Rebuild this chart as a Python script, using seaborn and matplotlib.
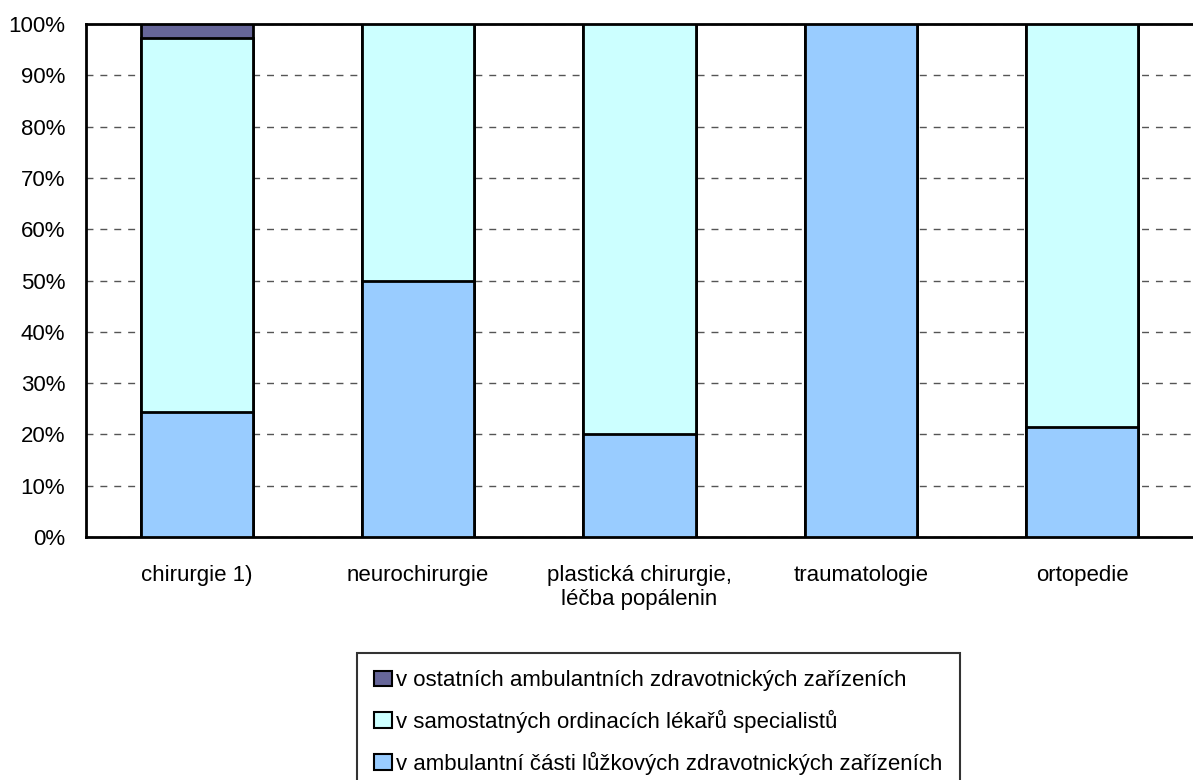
import numpy as np
import pandas as pd
import seaborn as sns
import matplotlib.pyplot as plt
from matplotlib.patches import Patch
from matplotlib.ticker import FixedLocator

# Data (share in %)
categories = ["chirurgie 1)", "neurochirurgie", "plastická chirurgie,\nléčba popálenin",
              "traumatologie", "ortopedie"]
luzkova = [24.3, 50.0, 20.0, 100.0, 21.4]
samostatne = [73.0, 50.0, 80.0, 0.0, 78.6]
ostatni = [2.7, 0.0, 0.0, 0.0, 0.0]

series_names = [
    "v ambulantní části lůžkových zdravotnických zařízeních",
    "v samostatných ordinacích lékařů specialistů",
    "v ostatních ambulantních zdravotnických zařízeních",
]
colors = ["#99CCFF", "#CCFFFF", "#666699"]

sns.set_style("white")
plt.rcParams["font.family"] = ["Liberation Sans", "DejaVu Sans"]
plt.rcParams["text.color"] = "black"
plt.rcParams["xtick.color"] = "black"
plt.rcParams["ytick.color"] = "black"

df = pd.DataFrame({"kategorie": categories,
                   "s1": luzkova, "s2": samostatne, "s3": ostatni})
df["c1"] = df["s1"]
df["c2"] = df["s1"] + df["s2"]
df["c3"] = df["c2"] + df["s3"]

fig = plt.figure(figsize=(11.93, 7.80), dpi=100)
ax = fig.add_axes([0.0721, 0.3115, 0.9279, 0.6577])

# cumulative overlay: draw the tallest first
for col, color in zip(["c3", "c2", "c1"], colors[::-1]):
    sns.barplot(data=df, x="kategorie", y=col, color=color, width=0.506,
                edgecolor="black", linewidth=2, saturation=1, ax=ax, zorder=3)

ax.set_xlim(-0.5, 4.5)
ax.set_ylim(0, 100)
ax.set_yticks(np.arange(0, 101, 10))
ax.set_yticklabels([f"{v}%" for v in range(0, 101, 10)])
ax.yaxis.grid(True, linestyle=(0, (5, 5)), color="#555555", linewidth=1, zorder=0)
ax.set_axisbelow(True)

ax.set_xlabel("")
ax.set_ylabel("")
ax.xaxis.set_minor_locator(FixedLocator([0.5, 1.5, 2.5, 3.5]))
ax.tick_params(axis="x", which="major", length=0, pad=20, labelsize=16,
               labelcolor="black")
ax.tick_params(axis="x", which="minor", length=8, width=2, color="black", direction="out")
ax.tick_params(axis="y", length=8, width=2, color="black", direction="out", pad=7,
               labelsize=16, labelcolor="black")

for side in ["left", "bottom", "top"]:
    ax.spines[side].set_visible(True)
    ax.spines[side].set_color("black")
    ax.spines[side].set_linewidth(2)
ax.spines["right"].set_visible(False)

handles = [Patch(facecolor=c, edgecolor="black", linewidth=1.5) for c in colors[::-1]]
leg = fig.legend(handles, series_names[::-1], loc="upper left",
                 bbox_to_anchor=(357 / 1193, 1 - 653 / 780), fontsize=16,
                 frameon=True, fancybox=False, edgecolor="black",
                 handlelength=0.8, handleheight=0.68, handletextpad=0.2,
                 labelspacing=0.84, borderpad=0.77, borderaxespad=0)
leg.get_frame().set_linewidth(1.5)
for t in leg.get_texts():
    t.set_color("black")

fig.savefig("out.png", dpi=100)
